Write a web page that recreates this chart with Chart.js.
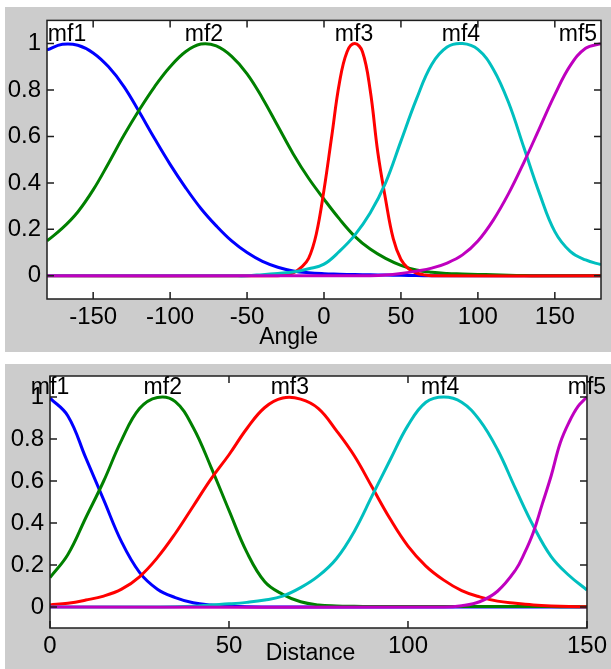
<!DOCTYPE html>
<html>
<head>
<meta charset="utf-8">
<title>Membership functions - Angle / Distance</title>
<script src="https://cdn.jsdelivr.net/npm/chart.js@4.4.1/dist/chart.umd.min.js"></script>
<style>
    body { margin: 0; background: #fff; }
    #page { position: relative; width: 611px; height: 669px; overflow: hidden; }
    .panel { position: absolute; left: 5px; width: 606px; background: #cccccc; }
    canvas { position: absolute; left: 0; }
</style>
</head>
<body>
<div id="page">
    <div class="panel" style="top:7px;height:345px"></div>
    <div class="panel" style="top:364px;height:305px"></div>
    <canvas id="angleChart" width="611" height="352" style="top:0"></canvas>
    <canvas id="distChart" width="611" height="317" style="top:352px"></canvas>
</div>
<script>
// Shared
const mfNames = ['mf1', 'mf2', 'mf3', 'mf4', 'mf5'];
const mfColors = ['#0000ff', '#008000', '#ff0000', '#00bfbf', '#bf00bf'];
const yTicks = [0, 0.2, 0.4, 0.6, 0.8, 1];

// 1. Angle input (upper plot)
const angleTicks = [-150, -100, -50, 0, 50, 100, 150];
const angleX = [-180, -170, -160, -150, -140, -130, -120, -110, -100, -90, -80, -70, -60, -50, -40, -30, -20, -10,
    0, 10, 20, 30, 40, 50, 60, 70, 80, 90, 100, 110, 120, 130, 140, 150, 160, 170, 180];
const angleMf1 = [0.973, 0.997, 0.993, 0.96, 0.9, 0.815, 0.705, 0.59, 0.48, 0.38, 0.29, 0.215, 0.15, 0.1, 0.062, 0.037, 0.021, 0.013,
    0.009, 0.007, 0.005, 0.004, 0.003, 0.002, 0.001, 0, 0, 0, 0, 0, 0, 0, 0, 0, 0, 0, 0];
const angleMf2 = [0.15, 0.205, 0.275, 0.37, 0.485, 0.605, 0.715, 0.815, 0.9, 0.965, 0.998, 0.99, 0.945, 0.87, 0.765, 0.645, 0.525, 0.42,
    0.33, 0.245, 0.17, 0.115, 0.075, 0.045, 0.025, 0.015, 0.01, 0.008, 0.006, 0.004, 0.002, 0.001, 0, 0, 0, 0, 0];
const angleMf3X = [-180, -30, -25, -20, -15, -10, -5, 0, 5, 10, 15, 20, 25, 30, 35, 40, 45, 50, 55, 60, 65, 70, 180];
const angleMf3 = [0, 0, 0.004, 0.012, 0.035, 0.075, 0.18, 0.37, 0.6, 0.83, 0.965, 1.0, 0.965, 0.8, 0.53, 0.33, 0.16, 0.07, 0.03, 0.012, 0.004, 0, 0];
const angleMf4 = [0, 0, 0, 0, 0, 0, 0, 0, 0, 0, 0, 0, 0, 0, 0.005, 0.01, 0.016, 0.03,
    0.05, 0.105, 0.175, 0.27, 0.4, 0.58, 0.76, 0.91, 0.985, 1.0, 0.975, 0.89, 0.745, 0.55, 0.355, 0.19, 0.105, 0.068, 0.048];
const angleMf5 = [0, 0, 0, 0, 0, 0, 0, 0, 0, 0, 0, 0, 0, 0, 0, 0, 0, 0,
    0, 0, 0, 0, 0.003, 0.01, 0.02, 0.033, 0.055, 0.09, 0.15, 0.24, 0.355, 0.49, 0.635, 0.78, 0.905, 0.98, 1.0];
const angleLabelX = [-167, -78, 19.5, 89, 165];

// 2. Distance input (lower plot)
const distTicks = [0, 50, 100, 150];
const distX = [0, 5, 10, 15, 20, 25, 30, 35, 40, 45, 50, 55, 60, 65, 70, 75, 80, 85, 90, 95, 100,
    105, 110, 115, 120, 125, 130, 135, 140, 145, 150];
const distMf1 = [0.995, 0.91, 0.71, 0.51, 0.31, 0.165, 0.085, 0.045, 0.02, 0.009, 0.004, 0.001, 0, 0, 0, 0, 0, 0, 0, 0, 0,
    0, 0, 0, 0, 0, 0, 0, 0, 0, 0];
const distMf2 = [0.14, 0.25, 0.425, 0.6, 0.795, 0.945, 0.998, 0.978, 0.855, 0.665, 0.46, 0.26, 0.12, 0.06, 0.025, 0.01, 0.005, 0.003, 0.002, 0.002, 0.002,
    0.002, 0.002, 0.002, 0.002, 0.002, 0.002, 0.002, 0.002, 0.001, 0.001];
const distMf3 = [0.01, 0.018, 0.033, 0.052, 0.085, 0.144, 0.235, 0.35, 0.48, 0.61, 0.725, 0.85, 0.95, 0.995, 0.99, 0.945, 0.84, 0.72, 0.57, 0.42, 0.29,
    0.195, 0.128, 0.078, 0.048, 0.028, 0.018, 0.01, 0.005, 0.002, 0.001];
const distMf4 = [0, 0, 0, 0, 0, 0, 0, 0.001, 0.004, 0.01, 0.015, 0.022, 0.033, 0.052, 0.092, 0.148, 0.23, 0.36, 0.53, 0.70, 0.865,
    0.975, 1.0, 0.975, 0.89, 0.75, 0.565, 0.387, 0.24, 0.15, 0.081];
const distMf5X = [0, 110, 115, 120, 125, 130, 132.5, 135, 137.5, 140, 142.5, 145, 147.5, 150];
const distMf5 = [0, 0, 0.006, 0.025, 0.075, 0.175, 0.255, 0.355, 0.49, 0.625, 0.78, 0.88, 0.955, 1.0];
const distLabelX = [0, 31.5, 67, 109, 150];

const FONT = '"Liberation Sans", Arial, sans-serif';

// MATLAB-like box: white axes, frame, inward ticks, mf labels, x label
const matlabAxes = {
    id: 'matlabAxes',
    beforeDraw(chart) {
        const a = chart.chartArea;
        const ctx = chart.ctx;
        ctx.save();
        ctx.fillStyle = '#ffffff';
        ctx.fillRect(a.left, a.top, a.right - a.left, a.bottom - a.top);
        ctx.restore();
    },
    afterDatasetsDraw(chart, args, opts) {
        const a = chart.chartArea;
        const ctx = chart.ctx;
        const xs = chart.scales.x;
        const ys = chart.scales.y;
        const tl = 7;

        ctx.save();
        ctx.strokeStyle = '#1e1e1e';
        ctx.lineWidth = 1.5;
        ctx.strokeRect(a.left, a.top, a.right - a.left, a.bottom - a.top);

        ctx.beginPath();
        xs.ticks.forEach(t => {
            const px = xs.getPixelForValue(t.value);
            ctx.moveTo(px, a.bottom); ctx.lineTo(px, a.bottom - tl);
            ctx.moveTo(px, a.top); ctx.lineTo(px, a.top + tl);
        });
        ys.ticks.forEach(t => {
            const py = ys.getPixelForValue(t.value);
            ctx.moveTo(a.left, py); ctx.lineTo(a.left + tl, py);
            ctx.moveTo(a.right, py); ctx.lineTo(a.right - tl, py);
        });
        ctx.stroke();

        // membership function names above their peaks
        ctx.fillStyle = '#000';
        ctx.font = '23px ' + FONT;
        ctx.textAlign = 'center';
        ctx.textBaseline = 'alphabetic';
        const labelY = ys.getPixelForValue(1) - 3;
        opts.labelX.forEach((x, i) => {
            ctx.fillText(mfNames[i], xs.getPixelForValue(x), labelY);
        });

        // x axis name
        ctx.fillText(opts.title, xs.getPixelForValue(opts.titleX), a.bottom + opts.titleOffset);
        ctx.restore();
    }
};

function buildDatasets(series) {
    return series.map((s, i) => ({
        label: mfNames[i],
        data: s.x.map((x, k) => ({ x: x, y: s.y[k] })),
        borderColor: mfColors[i],
        borderWidth: 3,
        borderJoinStyle: 'round',
        pointRadius: 0,
        fill: false,
        tension: 0.4,
        order: series.length - i   // mf5 ends up on top, like plotmf
    }));
}

function makeChart(id, cfg) {
    const ctx = document.getElementById(id).getContext('2d');
    return new Chart(ctx, {
        type: 'line',
        data: { datasets: buildDatasets(cfg.series) },
        options: {
            responsive: false,
            animation: false,
            events: [],
            layout: { padding: { left: 0, top: cfg.padTop, right: cfg.padRight, bottom: 0 } },
            scales: {
                x: {
                    type: 'linear',
                    min: cfg.xMin,
                    max: cfg.xMax,
                    afterBuildTicks: s => { s.ticks = cfg.xTicks.map(v => ({ value: v })); },
                    afterFit: s => { s.height = cfg.xHeight; },
                    grid: { display: false, drawTicks: false },
                    border: { display: false },
                    ticks: {
                        autoSkip: false, maxRotation: 0, minRotation: 0, padding: 4,
                        color: '#000', font: { size: 24, family: FONT },
                        callback: v => String(v)
                    }
                },
                y: {
                    type: 'linear',
                    min: -0.1,
                    max: 1.1,
                    afterBuildTicks: s => { s.ticks = yTicks.map(v => ({ value: v })); },
                    afterFit: s => { s.width = cfg.yWidth; },
                    grid: { display: false, drawTicks: false },
                    border: { display: false },
                    ticks: {
                        padding: 6,
                        color: '#000', font: { size: 24, family: FONT },
                        callback: v => String(v)
                    }
                }
            },
            plugins: {
                legend: { display: false },
                tooltip: { enabled: false },
                matlabAxes: cfg.axes
            }
        },
        plugins: [matlabAxes]
    });
}

document.addEventListener('DOMContentLoaded', () => {
    makeChart('angleChart', {
        series: [
            { x: angleX, y: angleMf1 },
            { x: angleX, y: angleMf2 },
            { x: angleMf3X, y: angleMf3 },
            { x: angleX, y: angleMf4 },
            { x: angleX, y: angleMf5 }
        ],
        xMin: -180, xMax: 180, xTicks: angleTicks,
        padTop: 15, padRight: 10, yWidth: 47, xHeight: 53,
        axes: { labelX: angleLabelX, title: 'Angle', titleX: -23, titleOffset: 45 }
    });

    makeChart('distChart', {
        series: [
            { x: distX, y: distMf1 },
            { x: distX, y: distMf2 },
            { x: distX, y: distMf3 },
            { x: distX, y: distMf4 },
            { x: distMf5X, y: distMf5 }
        ],
        xMin: 0, xMax: 150, xTicks: distTicks,
        padTop: 24, padRight: 20, yWidth: 50, xHeight: 41,
        axes: { labelX: distLabelX, title: 'Distance', titleX: 72.8, titleOffset: 32 }
    });
});
</script>
</body>
</html>
